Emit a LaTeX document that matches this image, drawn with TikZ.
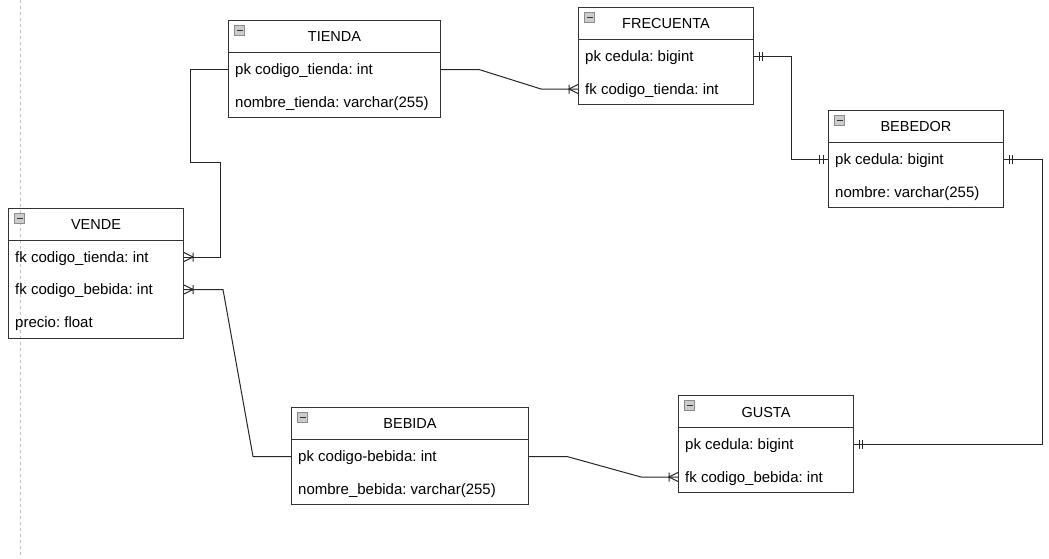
\documentclass[tikz,border=0pt]{standalone}
\usepackage{fontspec}
\setmainfont{Liberation Sans}
\frenchspacing

\newcommand{\letra}{\fontsize{14.5}{17}\selectfont}
\newcommand{\letracampo}{\fontsize{15}{17}\selectfont}

\tikzset{
	tabla/.style={draw=black!80, line width=1pt},
	titulo/.style={font=\letra, inner sep=0pt},
	campo/.style={font=\letracampo, anchor=west, inner sep=0pt, text height=12pt, text depth=1.5pt},
	enlace/.style={draw=black!85, line width=1pt},
	icono/.style={draw=black!45, fill=black!20, line width=1pt},
}

% tabla: nombre, x, y, ancho, alto, titulo
\newcommand{\tabla}[6]{%
	\node[tabla, inner sep=0pt, minimum width=#4pt, minimum height=#5pt, anchor=north west] (#1) at (#2,#3) {};
	\draw[tabla] (#1.north west) ++(0,32) -- ++(#4,0);
	\draw[icono] (#1.north west) ++(6.5,5.5) rectangle ++(10,10);
	\draw[black!80, line width=1.5pt] (#1.north west) ++(8.5,10.5) -- ++(6,0);
	\node[titulo] at ([yshift=-17pt]#1.north) {#6};
}
% extremos de las relaciones
\newcommand{\muchos}[2]{\draw[enlace, shift={(#1)}, rotate=#2] (0,-4.5) -- (9,0) -- (0,4.5) (9,-4.5) -- (9,4.5);}
\newcommand{\uno}[2]{\draw[enlace, shift={(#1)}, rotate=#2] (5,-4.5) -- (5,4.5) (8.5,-4.5) -- (8.5,4.5);}

\begin{document}
\begin{tikzpicture}[x=1pt, y=-1pt]
	\useasboundingbox (0,0) rectangle (1049,558);
	\draw[black!25, line width=1pt, dash pattern=on 3pt off 3pt] (20.5,0) -- (20.5,558);

	\tabla{vende}{8}{208}{175}{129.5}{VENDE}
	\node[campo] (v1) at (15,257) {fk codigo\_tienda: int};
	\node[campo] (v2) at (15,289.5) {fk codigo\_bebida: int};
	\node[campo] (v3) at (15,322) {precio: float};

	\tabla{tienda}{228}{20}{212}{97}{TIENDA}
	\node[campo] (t1) at (235,69.5) {pk codigo\_tienda: int};
	\node[campo] (t2) at (235,102) {nombre\_tienda: varchar(255)};

	\tabla{frecuenta}{578}{7}{175}{97}{FRECUENTA}
	\node[campo] (f1) at (585,56.5) {pk cedula: bigint};
	\node[campo] (f2) at (585,89) {fk codigo\_tienda: int};

	\tabla{bebedor}{828}{110}{175}{97}{BEBEDOR}
	\node[campo] (b1) at (835,159.5) {pk cedula: bigint};
	\node[campo] (b2) at (835,192) {nombre: varchar(255)};

	\tabla{bebida}{291}{407}{237}{97}{BEBIDA}
	\node[campo] (e1) at (298,456.5) {pk codigo-bebida: int};
	\node[campo] (e2) at (298,489) {nombre\_bebida: varchar(255)};

	\tabla{gusta}{678}{395}{175}{97}{GUSTA}
	\node[campo] (g1) at (685,444.5) {pk cedula: bigint};
	\node[campo] (g2) at (685,477) {fk codigo\_bebida: int};

	% puntos de conexion
	\coordinate (cv1) at (v1 -| vende.east);
	\coordinate (cv2) at (v2 -| vende.east);
	\coordinate (cf1) at (f1 -| frecuenta.east);
	\coordinate (cf2) at (f2 -| frecuenta.west);
	\coordinate (cb1) at (b1 -| bebedor.west);
	\coordinate (cb2) at (b1 -| bebedor.east);
	\coordinate (cg1) at (g1 -| gusta.east);
	\coordinate (cg2) at (g2 -| gusta.west);

	\draw[enlace] (t1 -| tienda.west) -| (190,162) -- (220,162) |- (cv1);
	\draw[enlace] (t1 -| tienda.east) -- ++(38,0) -- ([xshift=-37pt]cf2) -- (cf2);
	\draw[enlace] (cf1) -- ++(37,0) |- (cb1);
	\draw[enlace] (cb2) -- ++(38,0) |- (cg1);
	\draw[enlace] (cv2) -- ++(39,0) -- ([xshift=-38pt]e1 -| bebida.west) -- (e1 -| bebida.west);
	\draw[enlace] (e1 -| bebida.east) -- ++(38,0) -- ([xshift=-37pt]cg2) -- (cg2);

	\muchos{cv1}{0}
	\muchos{cv2}{0}
	\muchos{cf2}{180}
	\muchos{cg2}{180}
	\uno{cf1}{0}
	\uno{cb1}{180}
	\uno{cb2}{0}
	\uno{cg1}{0}
\end{tikzpicture}
\end{document}
